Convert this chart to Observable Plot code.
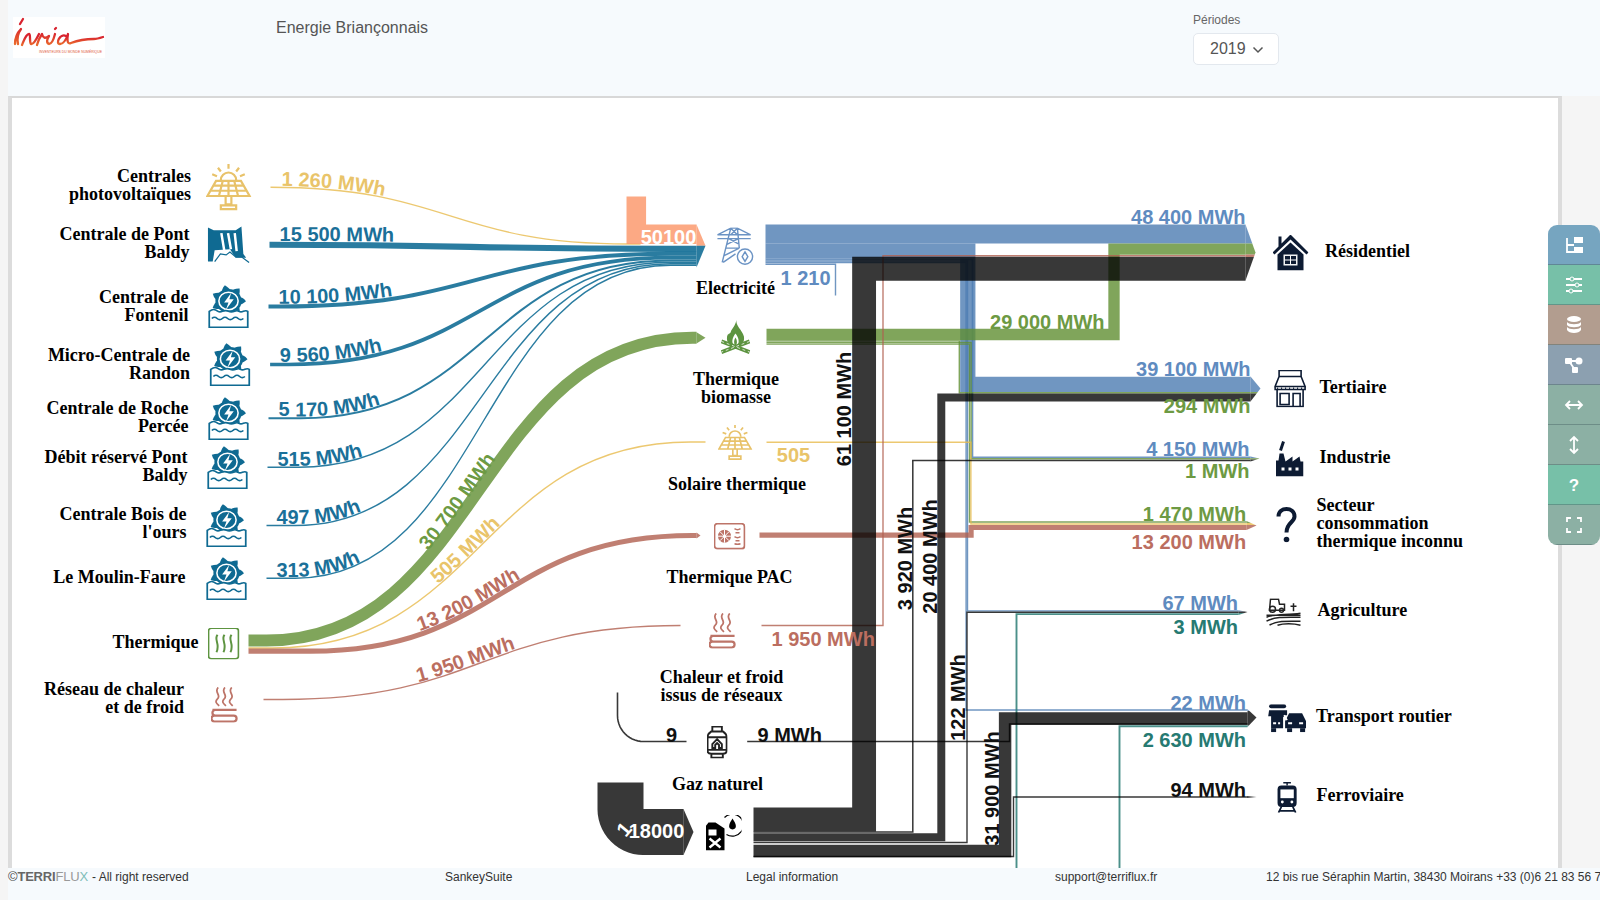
<!doctype html>
<html><head><meta charset="utf-8"><title>Energie Briançonnais</title>
<script src="https://cdn.jsdelivr.net/npm/d3@7"></script>
<script src="https://cdn.jsdelivr.net/npm/@observablehq/plot@0.6"></script>
<style>
html,body{margin:0;padding:0;width:1600px;height:900px;overflow:hidden;background:#f5f5f5;font-family:"Liberation Sans",Arial,sans-serif}
.abs{position:absolute}
#panel{left:8px;top:96px;width:1554px;height:774px;background:#fff;border-left:4px solid #dcdcdc;border-top:2px solid #d8d8d8;border-right:4px solid #dcdcdc;box-sizing:border-box}
#chart{left:0;top:0}
#chart svg{display:block;background:transparent}
#head{left:8px;top:0;width:1592px;height:96px;background:#f6fafd}
#foot{left:8px;top:868px;width:1592px;height:32px;background:#f6fafd;font-size:12px;color:#333}
#foot span{position:absolute;top:1px;white-space:nowrap;line-height:16px}
#tb{left:1548px;top:225px;width:52px;height:320px;border-radius:9px;overflow:hidden}
#tb div{height:40px;box-sizing:border-box;border-bottom:1px solid rgba(70,100,100,.45);display:flex;align-items:center;justify-content:center}
</style></head>
<body>
<div id="panel" class="abs"></div>
<div id="chart" class="abs"></div>
<div id="head" class="abs">
  <svg class="abs" style="left:5px;top:17px" width="92" height="41" viewBox="0 0 92 41">
    <defs><linearGradient id="lg" x1="0" y1="1" x2="0" y2="0"><stop offset="0" stop-color="#ea6a2c"/><stop offset=".7" stop-color="#d8232f"/></linearGradient></defs>
    <rect width="92" height="41" fill="#fff"/>
    <g fill="none" stroke="url(#lg)" stroke-width="2.300" stroke-linecap="round" stroke-linejoin="round">
      <path d="M2 27C2 20 5 15 8 12C5 16 4 22 5 27M10 2L7 7"/>
      <path d="M9 28C11 23 13 17 16 17C18 17 16 24 18 27C20 28 23 23 26 17"/>
      <path d="M24 28C25 24 27 20 29 17C30 21 32 22 36 19C34 22 33 26 36 27C39 27 41 21 42 17M43 11L42 12"/>
      <path d="M53 19C47 16 42 27 47 27C51 27 54 20 55 17C54 22 54 28 58 26C66 23 74 22 81 22C84 22 87 21 90 20"/>
    </g>
    <text x="26" y="36" font-size="3.400" fill="#e0573a" font-family="Liberation Sans">INVENTEURS DU MONDE NUMÉRIQUE</text>
  </svg>
  <div class="abs" style="left:268px;top:18px;font-size:16px;color:#555;line-height:19px">Energie Briançonnais</div>
  <div class="abs" style="left:1185px;top:13px;font-size:12px;color:#666;line-height:14px">Périodes</div>
  <div class="abs" style="left:1185px;top:33px;width:86px;height:32px;box-sizing:border-box;background:#fff;border:1px solid #e3e8ee;border-radius:5px;font-size:16px;color:#555;line-height:29px;padding-left:16px">2019
    <svg class="abs" style="left:58px;top:11px" width="12" height="10" viewBox="0 0 12 10"><path d="M1.5 2.5L6 7L10.5 2.5" fill="none" stroke="#555" stroke-width="1.5"/></svg>
  </div>
</div>
<div id="foot" class="abs">
  <span style="left:0;font-size:13px;letter-spacing:-.2px;color:#444">©<b style="color:#666">TERRI</b><span style="position:static;color:#999">FLU</span><span style="position:static;color:#7fbdb8">X</span></span>
  <span style="left:84px">- All right reserved</span>
  <span style="left:437px">SankeySuite</span>
  <span style="left:738px">Legal information</span>
  <span style="left:1047px">support@terriflux.fr</span>
  <span style="left:1258px">12 bis rue Séraphin Martin, 38430 Moirans +33 (0)6 21 83 56 79</span>
</div>
<div id="tb" class="abs"></div>
<script>
// ---------- values ----------
const pvName = "Centrales\nphotovoltaïques";
const sourceNames = [pvName,"Centrale de Pont\nBaldy","Centrale de\nFontenil","Micro-Centrale de\nRandon","Centrale de Roche\nPercée","Débit réservé Pont\nBaldy","Centrale Bois de\nl'ours","Le Moulin-Faure","Thermique","Réseau de chaleur\net de froid"];
const middleNames = ["Electricité","Thermique\nbiomasse","Solaire thermique","Thermique PAC","Chaleur et froid\nissus de réseaux","Gaz naturel","Produits pétroliers"];
const sinkNames = ["Résidentiel","Tertiaire","Industrie","Secteur\nconsommation\nthermique inconnu","Agriculture","Transport routier","Ferroviaire"];

const inflowValues  = {pv:1260, baldy:15500, fontenil:10100, randon:9560, roche:5170, debit:515, bois:497, moulin:313, biomasse:30700, solaire:505, pac:13200, reseau:1950, gazIn:9, elecTotal:50100, petrolTotal:118000};
const elecOut    = {res:48400, ter:39100, ind:4150, agr:67, tra:22, loss:1210};
const biomasseOut= {res:29000, ter:294, ind:1, sec:1470};
const solaireOut = {sec:505};
const pacOut     = {sec:13200};
const reseauOut  = {res:1950};
const gazOut     = {tra:9};
const petrolOut  = {res:61100, ind:3920, ter:20400, agr:122, tra:31900, fer:94};
const otherOut   = {agr:3, tra:2630};

const MWH_PER_PX = 2560;
const width_ = v => Math.max(1.4, v / MWH_PER_PX);
const fmt = v => d3.format(",")(v).replace(/,/g," ") + " MWh";

// ---------- styles ----------
const C = {blue:"#4c7cb1", green:"#608e32", yellow:"#e7ba4c", red:"#b05f4f", dark:"#000", source:"#05658f", peach:"#fc9a6e", teal:"#2b7d76"};
const T = {blue:"#5f8bc0", green:"#6d9a43", yellow:"#e9c46a", red:"#bb6e60", dark:"#111", source:"#1a7099", teal:"#267a72"};
const OP = {blue:.8, green:.8, yellow:.8, red:.8, dark:.78, source:.85, peach:.85, teal:.85};

// ---------- link layout (way-points on the page) ----------
const curved = [
 [inflowValues.pv,"yellow",[[270,186.7],[628,243.5],[640,243.6]]],
 [inflowValues.moulin,"source",[[266,577.7],[295,577.7],[670,264.8],[696,264.8]]],
 [inflowValues.bois,"source",[[266,525],[295,525],[670,263.2],[696,263.2]]],
 [inflowValues.debit,"source",[[267,466.7],[298,466.7],[670,261.7],[696,261.7]]],
 [inflowValues.roche,"source",[[268,417.7],[300,417.7],[670,260],[696,260]]],
 [inflowValues.randon,"source",[[269.6,364],[288,364],[670,257.2],[696,257.2]]],
 [inflowValues.fontenil,"source",[[268,306],[280,306],[670,253.3],[696,253.3]]],
 [inflowValues.baldy,"source",[[269,244.3],[670,248.4],[696,248.4]]],
 [inflowValues.biomasse,"green",[[248,640],[266,640],[692,337.3],[696,337.3]]],
 [inflowValues.solaire,"yellow",[[248,647.5],[272,647.5],[690,441.5],[705,441.5]]],
 [inflowValues.pac,"red",[[248,650.7],[310,650.7],[692,535],[696,535]]],
 [inflowValues.reseau,"red",[[263,699],[282,699],[680,625]]]
];
const elbows = [
 [inflowValues.elecTotal,"peach",[[635.8,196],[635.8,233.8],[696,233.8]]],
 [elecOut.res,"blue",[[765,233.5],[1245,233.5]]],
 [elecOut.ter,"blue",[[765,250.7],[967.3,250.7],[967.3,383.8],[1250,383.8]]],
 [elecOut.ind,"blue",[[765,259],[972,259],[972,456.8],[1250,456.8]]],
 [elecOut.agr,"blue",[[765,260.5],[967,260.5],[967,610.4],[1238,610.4]]],
 [elecOut.tra,"blue",[[765,262],[965.6,262],[965.6,709.5],[1247,709.5]]],
 [elecOut.loss,"blue",[[765,263.8],[835,263.8],[835,295]]],
 [biomasseOut.res,"green",[[766,334],[1113.5,334],[1113.5,248.6],[1245,248.6]]],
 [biomasseOut.ter,"green",[[766,340.4],[958.8,340.4],[958.8,392.3],[1250,392.3]]],
 [biomasseOut.ind,"green",[[766,342],[970.6,342],[970.6,458.2],[1250,458.2]]],
 [biomasseOut.sec,"green",[[766,343.6],[969,343.6],[969,521.5],[1246,521.5]]],
 [solaireOut.sec,"yellow",[[766,441.7],[970.4,441.7],[970.4,523.5],[1246,523.5]]],
 [pacOut.sec,"red",[[759,534.6],[970.6,534.6],[970.6,527],[1246,527]]],
 [reseauOut.res,"red",[[761,625],[882.5,625],[882.5,255.2],[1245,255.2]]],
 [otherOut.agr,"teal",[[1016,900],[1016,613.6],[1238,613.6]],1.9],
 [otherOut.tra,"teal",[[1119,900],[1119,725.8],[1247,725.8]],1.9],
 [petrolOut.res,"dark",[[753,819],[863.6,819],[863.6,268.3],[1245,268.3]]],
 [petrolOut.ind,"dark",[[753,831.6],[912.3,831.6],[912.3,460],[1250,460]]],
 [petrolOut.ter,"dark",[[753,836.7],[940.8,836.7],[940.8,397],[1250,397]]],
 [petrolOut.agr,"dark",[[753,842],[966.5,842],[966.5,611.8],[1238,611.8]]],
 [petrolOut.tra,"dark",[[753,850.4],[1004.6,850.4],[1004.6,718],[1247,718]]],
 [petrolOut.fer,"dark",[[753,856],[1013,856],[1013,796.5],[1246,796.5]]],
 [gazOut.tra,"dark",[[746.7,741],[1009,741],[1009,723.5],[1247,723.5]]]
];
// rounded elbows: a straight part plus a quarter circle
const arc = (cx,cy,r,a0,a1,n=14) => d3.range(n+1).map(i=>{const a=a0+(a1-a0)*i/n;return [cx+r*Math.cos(a),cy+r*Math.sin(a)]});
const rounded = [
 [inflowValues.petrolTotal,"dark",[[620,782],...arc(643,808.5,23,Math.PI,Math.PI/2),[683,831.5]],46],
 [inflowValues.gazIn,"dark",[[617,692],...arc(643,715,26,Math.PI,Math.PI/2),[686,741]],1.6]
];
const toRows = (list,curveName) => list.flatMap((r,i)=>r[2].map(([x,y])=>({x,y,id:curveName+i,color:C[r[1]],op:OP[r[1]],group:r[1],w:r[3]||width_(r[0])})));

// arrow heads: [xEnd,xTip,top,bottom,tipY,[[colour,a,b],...]]
const heads = [
 [1245,1255,224,280,252,[["blue",224,243],["green",243,254],["red",254,256.5],["dark",256.5,280]]],
 [1250,1260,376,401,388,[["blue",376,391.5],["green",391.5,393],["dark",393,401]]],
 [1250,1259,456,461,458,[["blue",456,457.7],["green",457.7,459],["dark",459,461]]],
 [1246,1256,520.5,529.5,525,[["green",520.5,522.5],["yellow",522.5,524.5],["red",524.5,529.5]]],
 [1238,1247,609.8,614.5,611.5,[["blue",609.8,611],["dark",611,612.5],["teal",612.5,614.5]]],
 [1247,1256,708.7,726.5,717,[["blue",708.7,710.5],["dark",710.5,725],["teal",725,726.5]]],
 [1246,1256,795.5,797.5,796.5,[["dark",795.5,797.5]]],
 [696,705,224,267,245.2,[["peach",224,245.2],["source",245.2,267]]],
 [696,705,331.7,343,337.3,[["green",331.7,343]]],
 [696,700,532,538,535,[["red",532,538]]],
 [683,693,808.5,854.5,831.5,[["dark",808.5,854.5]]]
];
const headRows = heads.flatMap(([e,t,top,bot,tip,slices],h)=>slices.flatMap(([c,a,b],s)=>{
  const at = y => y<=tip ? e+(t-e)*(y-top)/(tip-top) : e+(t-e)*(bot-y)/(bot-tip);
  const pts = [[e,a],[at(a),a]]; if(a<tip&&tip<b) pts.push([t,tip]); pts.push([at(b),b],[e,b]);
  return pts.map(([x,y])=>({x,y,id:`h${h}-${s}`,color:C[c],op:OP[c]}));
}));

// ---------- label layout ----------
const sourceLabelPos = [[190.5,185],[189,243],[188,305.5],[189.5,363.5],[188,416.5],[187,466],[186,523],[185,577],[198,642],[183.5,698]];
const middleLabelPos = [[735,287.7],[735.5,388],[736.5,484],[729,576.7],[721,686],[717,784],[722,875]];
const sinkLabelPos   = [[1324.5,250.7],[1319,386.7],[1319,456.7],[1316,523],[1317,610],[1315.5,715.7],[1316,795]];

// labels that run along their link: [text, colour, index in curved, x where the text starts]
const alongLabels = [
 [fmt(inflowValues.pv),"yellow",0,280],[fmt(inflowValues.baldy),"source",7,279],[fmt(inflowValues.fontenil),"source",6,278],
 [fmt(inflowValues.randon),"source",5,279.5],[fmt(inflowValues.roche),"source",4,278],[fmt(inflowValues.debit),"source",3,277],
 [fmt(inflowValues.bois),"source",2,276],[fmt(inflowValues.moulin),"source",1,275.5],
 [fmt(inflowValues.biomasse),"green",8,427],[fmt(inflowValues.solaire),"yellow",9,437],[fmt(inflowValues.pac),"red",10,419],[fmt(inflowValues.reseau),"red",11,417]
];
const rotatedLabels = [
 [fmt(petrolOut.res),"dark",844,408.5,-90],[fmt(petrolOut.ind),"dark",905,558,-90],[fmt(petrolOut.ter),"dark",930,556,-90],[fmt(petrolOut.agr),"dark",958,697,-90],[fmt(petrolOut.tra),"dark",992,788,-90],
 [String(inflowValues.gazIn),"dark",671,735,0],[d3.format(",")(elecOut.loss).replace(",", " "),"blue",805,278,0],[String(solaireOut.sec),"yellow",793,455,0]
];
const rightLabels = [
 [fmt(elecOut.res),"blue",1245,217],[fmt(elecOut.ter),"blue",1250,369],[fmt(biomasseOut.ter),"green",1250,405.7],[fmt(elecOut.ind),"blue",1249,449],[fmt(biomasseOut.ind),"green",1249,471],
 [fmt(biomasseOut.sec),"green",1245.6,514],[fmt(pacOut.sec),"red",1245.6,542],[fmt(elecOut.agr),"blue",1237.5,603],[fmt(otherOut.agr),"teal",1237.5,626.7],[fmt(elecOut.tra),"blue",1245.5,703],
 [fmt(otherOut.tra),"teal",1245.5,740],[fmt(petrolOut.fer),"dark",1245.5,790],[fmt(biomasseOut.res),"green",1104,322]
];
const leftLabels = [[fmt(gazOut.tra),"dark",757,735],[fmt(reseauOut.res),"red",771,639]];

// ---------- icons ----------
const uri = (vb,body) => "data:image/svg+xml,"+encodeURIComponent(`<svg xmlns="http://www.w3.org/2000/svg" viewBox="${vb}" preserveAspectRatio="none">${body}</svg>`);
const NAVY="#0d1b33", TEALI="#0f6a92", YEL="#e8c26a", GRN="#5d9440", RED="#bd7468", BLU="#6b93c4";
const pvIcon = uri("0 0 48 50",`<g fill="none" stroke="${YEL}" stroke-width="2.300"><path d="M24 0v5M13 4l3 4M35 4l-3 4M7 11l5 2M41 11l-5 2M16 17a8 8 0 0 1 16 0"/><path d="M11 18H37L46 34H2Z M8 23H40 M5 28.500H43 M18 18L14 34 M30 18L34 34 M24 18V34"/><path d="M21 34V43h6V34 M16 48v-4h16v4z"/></g>`);
const damIcon = uri("0 0 46 40",`<path d="M1 2L7 5H30L36 1L38 30L41 34H30L24 25L8 26L6 38H1Z" fill="${TEALI}"/><path d="M15 8L18 26M22 8L25 25M29 8L31 27" stroke="#fff" stroke-width="2.600" fill="none"/><path d="M8 38L14 30L20 31L24 28L30 33L36 33L44 39" stroke="${TEALI}" fill="none" stroke-width="1.300"/>`);
const teeth = d3.range(7).map(i=>`<path d="M24 0C20 3 19 6 19 9H29C29 6 27 3 24 0Z" transform="rotate(${-12+i*51.4} 24 20)"/>`).join("");
const hydroIcon = uri("0 0 48 54",`<g fill="${TEALI}">${teeth}<circle cx="24" cy="20" r="15"/></g><circle cx="24" cy="20" r="11" fill="none" stroke="#fff" stroke-width="1.800"/><path d="M27 10L19 22H24L21 31L30 18H25Z" fill="#fff"/><path d="M2 33C6 30 8 30 12 33C16 36 18 30 24 33C30 36 32 30 36 33C40 36 42 30 46 33V53H2Z" fill="#fff" stroke="${TEALI}" stroke-width="2"/><path d="M5 42q3-3 6 0t6 0t6 0t6 0t6 0t6 0" fill="none" stroke="${TEALI}" stroke-width="2"/>`);
const radIcon = uri("0 0 32 40",`<rect x="1" y="1" width="30" height="38" rx="3" fill="none" stroke="${GRN}" stroke-width="1.800"/><path d="M10 9C6 15 13 20 9 31M17 9C13 15 20 20 16 31M24 9C20 15 27 20 23 31" fill="none" stroke="${GRN}" stroke-width="2"/>`);
const heatIcon = uri("0 0 29 37",`<g fill="none" stroke="${RED}" stroke-width="1.800"><path d="M8 1C3 6 12 9 7 13C4 16 7 18 9 20M15 1C10 6 19 9 14 13C11 16 14 18 16 20M22 1C17 6 26 9 21 13C18 16 21 18 23 20"/><path d="M2 24H27M5 24a3 3 0 0 0 0 6H24M24 30a3 3 0 0 1 0 6H4a2 2 0 0 1 0-6" stroke-width="2.300"/></g>`);
const pylonIcon = uri("0 0 40 40",`<g fill="none" stroke="${BLU}" stroke-width="1.500"><path d="M1 8L15 1H22L36 8M1 8H36M1 12H36M15 1L6 37M22 1L24 22M15 1L22 8M22 1L15 8M13 12L24 18M23 12L11 18M10 22H24M8 30L24 22M7 37L20 28"/><circle cx="30" cy="31" r="8" fill="#fff"/><path d="M30 26L33 31L30 36L27 31Z"/></g>`);
const fireIcon = uri("0 0 32 36",`<g fill="${GRN}"><path d="M17 0C16 6 23 10 25 17C26 23 22 28 16 28C10 28 6 23 7 17C8 13 10 15 11 12C12 9 16 6 17 0Z"/></g><path d="M16 14C12 19 11 25 16 27C21 25 20 19 16 14Z" fill="#fff"/><path d="M16 18C14 21 14 25 16 26C18 25 18 21 16 18Z" fill="${GRN}"/><path d="M1 22L31 33M31 22L1 33" stroke="${GRN}" stroke-width="4"/><path d="M1 22L31 33M31 22L1 33" stroke="#fff" stroke-width=".8" stroke-dasharray="3 3"/>`);
const pacIcon = uri("0 0 32 27",`<rect x="1" y="1" width="30" height="25" rx="3" fill="none" stroke="${RED}" stroke-width="1.800"/><circle cx="11" cy="13.500" r="6.500" fill="${RED}"/><g stroke="#fff" stroke-width="1"><path d="M11 7V20M4.500 13.500H17.500M6.500 9L15.500 18M15.500 9L6.500 18"/></g><circle cx="11" cy="13.500" r="1.500" fill="#fff"/><path d="M21 6q3 2 6 0M22 10h4M21 14q3 2 6 0M22 18h4M21 21q3 1 6 0" fill="none" stroke="${RED}" stroke-width="1.500"/>`);
const gasIcon = uri("0 0 22 34",`<g fill="none" stroke="#222" stroke-width="2"><path d="M6 1H16V6H6ZM5 6H17C20 8 21 10 21 12V26C21 28 19 29 17 29H5C3 29 1 28 1 26V12C1 10 2 8 5 6ZM5 29V33H17V29M1 12H21M1 25H21"/><path d="M11 14L6 19V23H9V20L11 18L13 20V23H16V19Z"/></g>`);
const petrolIcon = uri("0 0 36 36",`<path d="M0 12L3 8H10L19 14V36H0Z" fill="#000"/><rect x="3" y="15" width="8" height="6" fill="#fff"/><path d="M4 24L15 33M15 24L4 33" stroke="#fff" stroke-width="2.400"/><path d="M19 3A11 11 0 1 1 21 20" fill="none" stroke="#000" stroke-width="1.200"/><path d="M27 4C23 10 22 14 27 15C32 14 31 10 27 4Z" fill="#000"/>`);
const houseIcon = uri("0 0 36 36",`<path d="M18 0L36 18L34 20L18 5L2 20L0 18L6 12V2H9V9Z" fill="${NAVY}"/><path d="M18 8L31 20V36H5V20Z" fill="${NAVY}"/><rect x="11" y="20" width="14" height="11" fill="#fff" opacity=".95"/><rect x="12.500" y="21.500" width="11" height="8" fill="${NAVY}"/><path d="M18 21V30M12 25.500H24" stroke="#fff"/>`);
const shopIcon = uri("0 0 32 38",`<g fill="none" stroke="${NAVY}" stroke-width="1.600"><path d="M5 1H27V7H5ZM5 7L1 17H31L27 7ZM1 17V20H31V17M3 20V37H29V20M6 24H15V35H6ZM19 24H26V37H19Z"/></g><path d="M3 19h26" stroke="${NAVY}" stroke-width="2" stroke-dasharray="1 3"/>`);
const factoryIcon = uri("0 0 28 36",`<path d="M4 13H8L10 21L17 16V21L24 16L25 21H28V36H0V20H3Z" fill="${NAVY}"/><path d="M5 10L8 1" stroke="${NAVY}" stroke-width="3"/><g fill="#fff"><rect x="6" y="27" width="3" height="3"/><rect x="13" y="27" width="3" height="3"/><rect x="20" y="27" width="3" height="3"/></g>`);
const qIcon = uri("0 0 22 36",`<path d="M3 10C3 0 19 0 19 10C19 16 11 16 11 26" fill="none" stroke="${NAVY}" stroke-width="4"/><circle cx="11" cy="33" r="2.800" fill="${NAVY}"/>`);
const farmIcon = uri("0 0 36 28",`<g fill="none" stroke="#222" stroke-width="1.500"><path d="M5 1H13L14 6H19V12H4Z"/><circle cx="7" cy="11" r="3"/><circle cx="16" cy="12" r="2"/><path d="M28 5v8M25 8h6M1 17H35M1 19C8 16 20 17 35 15M1 23C10 18 22 19 35 19M4 27C12 22 24 23 35 23M12 27C18 25 28 25 35 27"/></g>`);
const carsIcon = uri("0 0 38 28",`<g fill="${NAVY}"><rect x="1" y="0" width="17" height="4" rx="2"/><path d="M1 6H19V11H17L15 13V24H3V12H0ZM21 9H34L38 17V24H17V17Z"/><rect x="3" y="24" width="5" height="4"/><rect x="19" y="24" width="5" height="4"/><rect x="32" y="24" width="5" height="4"/></g><path d="M5 19h3M10 19h2M20 19h4M31 19h4" stroke="#fff" stroke-width="2"/><path d="M16 11L19 16" stroke="#fff" stroke-width="1.500"/>`);
const trainIcon = uri("0 0 22 32",`<path d="M7 1H15M11 1V4" stroke="${NAVY}" stroke-width="1.500"/><rect x="1" y="4" width="20" height="22" rx="4" fill="${NAVY}"/><rect x="4" y="8" width="14" height="9" fill="#fff"/><circle cx="6" cy="21" r="1.500" fill="#fff"/><circle cx="16" cy="21" r="1.500" fill="#fff"/><path d="M5 26L2 32M17 26L20 32M3 30H19" stroke="${NAVY}" stroke-width="1.800"/>`);

const icons = [
 [pvIcon,228,187,46,47],[damIcon,228.5,244,44,38],[hydroIcon,228,306,42,43],[hydroIcon,229.5,364,42,43],[hydroIcon,228,418,42,43],[hydroIcon,227,467,42,43],[hydroIcon,226,525,42,43],[hydroIcon,226,578,42,43],
 [radIcon,223,643,32,32],[heatIcon,224,704,28,36],
 [pylonIcon,735,245.7,38,38],[fireIcon,735,337,30,35],[pvIcon,734.5,442,35,36],[pacIcon,729,535.7,32,27],[heatIcon,722,630,28,36],[gasIcon,716.6,741.6,21,33],[petrolIcon,723,832,36,36],
 [houseIcon,1290,252,36,36],[shopIcon,1289.6,388,32,38],[factoryIcon,1289,458,28,36],[qIcon,1286,524,22,36],[farmIcon,1283,611.7,36,28],[carsIcon,1286.6,717.7,38,28],[trainIcon,1286.6,796.7,21,31]
].map(([src,x,y,w,h])=>({src,x,y,w,h}));

// ---------- chart ----------
const font = "Liberation Sans", serif = "Liberation Serif";
const linear = toRows(elbows,"e").concat(toRows(rounded,"r"));
const bump = toRows(curved,"c");
const lineLayer = (rows,curve) => Plot.line(rows,{x:"x",y:"y",z:"id",stroke:"color",strokeWidth:"w",strokeOpacity:"op",curve,strokeLinejoin:"miter",strokeLinecap:"butt",strokeMiterlimit:10});
const valueText = (rows,anchor) => Plot.text(rows,{x:d=>d[2],y:d=>d[3],text:d=>d[0],fill:d=>T[d[1]],rotate:d=>d[4]||0,textAnchor:anchor,lineAnchor:"middle",fontFamily:font,fontWeight:"bold",fontSize:20});
const nameText = (names,pos,anchor) => Plot.text(names,{x:(d,i)=>pos[i][0],y:(d,i)=>pos[i][1],text:d=>d,textAnchor:anchor,lineAnchor:"middle",lineHeight:1,fill:"#000",fontFamily:serif,fontWeight:"bold",fontSize:18});

const chart = Plot.plot({
  width:1600,height:900,margin:0,
  style:{background:"transparent",overflow:"visible"},
  x:{type:"linear",domain:[0,1600],range:[0,1600],axis:null},
  y:{type:"linear",domain:[0,900],range:[0,900],axis:null},
  marks:[
    lineLayer(bump.filter(d=>d.group!=="dark"),"bump-x"),
    lineLayer(linear.filter(d=>d.group!=="dark"),"linear"),
    Plot.line(headRows,{x:"x",y:"y",z:"id",fill:"color",fillOpacity:"op",stroke:null,curve:"linear"}),
    lineLayer(linear.filter(d=>d.group==="dark"),"linear"),
    Plot.image(icons,{x:"x",y:"y",width:"w",height:"h",src:"src",preserveAspectRatio:"none"}),
    nameText(sourceNames,sourceLabelPos,"end"),
    nameText(middleNames,middleLabelPos,"middle"),
    nameText(sinkNames,sinkLabelPos,"start"),
    Plot.text(alongLabels,{x:d=>d[3],y:d=>curved[d[2]][2][0][1],text:d=>d[0],fill:d=>T[d[1]],textAnchor:"start",fontFamily:font,fontWeight:"bold",fontSize:20,className:"along"}),
    valueText(rotatedLabels,"middle"),
    valueText(rightLabels,"end"),
    valueText(leftLabels,"start"),
    Plot.text([inflowValues.elecTotal],{x:[668],y:[237],text:d=>String(d),fill:"#fff",fontFamily:font,fontWeight:"bold",fontSize:20,lineAnchor:"middle"}),
    Plot.text(["1"],{x:[624],y:[829],text:d=>d,rotate:-50,fill:"#fff",fontFamily:font,fontWeight:"bold",fontSize:20,lineAnchor:"middle"}),
    Plot.text([String(inflowValues.petrolTotal).slice(1)],{x:[656],y:[831],text:d=>d,fill:"#fff",fontFamily:font,fontWeight:"bold",fontSize:20,lineAnchor:"middle"})
  ]
});
document.getElementById("chart").appendChild(chart);

// lay the along-the-link labels on a guide that follows their link, just above it
const NS = "http://www.w3.org/2000/svg";
const defs = document.createElementNS(NS,"defs"); chart.appendChild(defs);
chart.querySelectorAll("g.along text").forEach((el,i)=>{
  const [label,,ci,startX] = alongLabels[i];
  const [v,,pts,ow] = curved[ci];
  const lift = (ow||width_(v))/2 + .8;
  let d = `M${pts[0][0]},${pts[0][1]-lift}`;
  for (let k=1;k<pts.length;k++){ const [x0,y0]=pts[k-1],[x1,y1]=pts[k],m=(x0+x1)/2; d+=`C${m},${y0-lift} ${m},${y1-lift} ${x1},${y1-lift}`; }
  const p = document.createElementNS(NS,"path"); p.setAttribute("id","guide"+i); p.setAttribute("d",d); defs.appendChild(p);
  let s = 0; const total = p.getTotalLength();
  while (s<total && p.getPointAtLength(s).x<startX) s+=1;
  ["transform","x","y","dy"].forEach(a=>el.removeAttribute(a));
  el.textContent = "";
  const tp = document.createElementNS(NS,"textPath");
  tp.setAttribute("href","#guide"+i); tp.setAttribute("startOffset",s); tp.textContent = label;
  el.appendChild(tp);
});

// ---------- toolbar ----------
const w='fill="none" stroke="#fff" stroke-width="1.800"';
const tb = [
 ["#76a5c0",`<path d="M3 3V17H10M3 10H10" ${w}/><path d="M10 2H19V8H10ZM10 12H19V18H10Z" fill="#fff"/>`],
 ["#77c0a8",`<path d="M2 4H18M2 10H18M2 16H18" ${w}/><circle cx="8" cy="4" r="2" fill="#77c0a8" stroke="#fff"/><circle cx="13" cy="10" r="2" fill="#77c0a8" stroke="#fff"/><circle cx="7" cy="16" r="2" fill="#77c0a8" stroke="#fff"/>`],
 ["#b29d8f",`<ellipse cx="10" cy="4" rx="7" ry="3" fill="#fff"/><path d="M3 7C5 10 15 10 17 7V10C15 13 5 13 3 10ZM3 12C5 15 15 15 17 12V15C15 19 5 19 3 15Z" fill="#fff"/>`],
 ["#8ca0b0",`<path d="M5 6H15M5 6L11 15" ${w}/><rect x="1" y="3" width="7" height="6" rx="1" fill="#fff"/><circle cx="15" cy="6" r="3.500" fill="#fff"/><rect x="8" y="12" width="6" height="6" rx="1" fill="#fff"/>`],
 ["#8cb0a4",`<path d="M3 10H17M6 6L2 10L6 14M14 6L18 10L14 14" ${w}/>`],
 ["#8cb0a4",`<path d="M10 3V17M6 6L10 2L14 6M6 14L10 18L14 14" ${w}/>`],
 ["#77c0a8",`<text x="10" y="16" text-anchor="middle" font-size="17" font-weight="bold" fill="#fff" font-family="Liberation Sans">?</text>`],
 ["#8cb0a4",`<path d="M3 7V3H7M13 3H17V7M17 13V17H13M7 17H3V13" ${w}/>`]
];
document.getElementById("tb").innerHTML = tb.map(([c,b])=>`<div style="background:${c}"><svg width="20" height="20" viewBox="0 0 20 20">${b}</svg></div>`).join("");
</script>
</body></html>
